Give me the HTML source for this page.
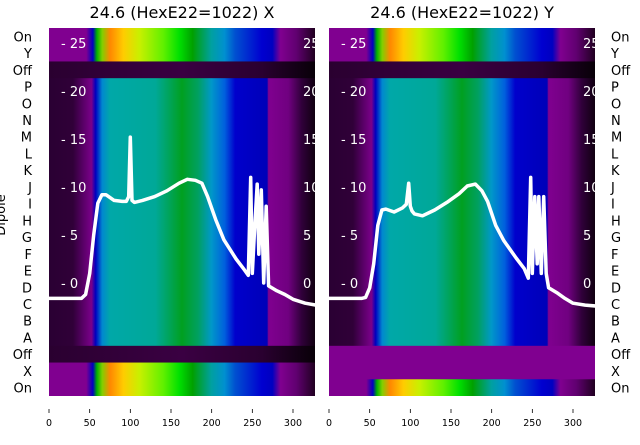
<!DOCTYPE html>
<html><head><meta charset="utf-8"><style>
body{margin:0;background:#fff;width:640px;height:440px;overflow:hidden;font-family:"Liberation Sans","DejaVu Sans",sans-serif}
svg text{font-family:"DejaVu Sans","Liberation Sans",sans-serif}
</style></head><body>
<svg id="chart" width="640" height="440" viewBox="0 0 640 440" xmlns="http://www.w3.org/2000/svg">
<defs>
<linearGradient id="gLetter" x1="0" x2="1" y1="0" y2="0">
<stop offset="0" stop-color="#2a0033"/><stop offset="0.09" stop-color="#300038"/><stop offset="0.13" stop-color="#5a0068"/><stop offset="0.16" stop-color="#7a008a"/><stop offset="0.175" stop-color="#0000c0"/><stop offset="0.2" stop-color="#0088d0"/><stop offset="0.23" stop-color="#00a8a8"/><stop offset="0.4" stop-color="#00a898"/><stop offset="0.5" stop-color="#00a020"/><stop offset="0.56" stop-color="#00a060"/><stop offset="0.61" stop-color="#0098c8"/><stop offset="0.66" stop-color="#0060dd"/><stop offset="0.7" stop-color="#0000cc"/><stop offset="0.82" stop-color="#0000b8"/><stop offset="0.825" stop-color="#800090"/><stop offset="0.9" stop-color="#700080"/><stop offset="0.95" stop-color="#30003a"/><stop offset="1" stop-color="#100010"/>
</linearGradient>
<linearGradient id="gOn" x1="0" x2="1" y1="0" y2="0">
<stop offset="0" stop-color="#800090"/><stop offset="0.14" stop-color="#800090"/><stop offset="0.165" stop-color="#0000c0"/><stop offset="0.18" stop-color="#00b000"/><stop offset="0.2" stop-color="#80d000"/><stop offset="0.23" stop-color="#ff8800"/><stop offset="0.28" stop-color="#ffcc00"/><stop offset="0.34" stop-color="#c8f000"/><stop offset="0.43" stop-color="#60f000"/><stop offset="0.49" stop-color="#00e000"/><stop offset="0.54" stop-color="#00a000"/><stop offset="0.61" stop-color="#00a0a0"/><stop offset="0.66" stop-color="#0090d0"/><stop offset="0.7" stop-color="#0050d0"/><stop offset="0.8" stop-color="#0000d0"/><stop offset="0.84" stop-color="#0000c0"/><stop offset="0.87" stop-color="#800090"/><stop offset="0.93" stop-color="#600070"/><stop offset="1" stop-color="#200020"/>
</linearGradient>
<linearGradient id="gOff" x1="0" x2="1" y1="0" y2="0">
<stop offset="0" stop-color="#2a0030"/><stop offset="0.5" stop-color="#3a0042"/><stop offset="0.8" stop-color="#2a0030"/><stop offset="1" stop-color="#080008"/>
</linearGradient>
<clipPath id="clipL"><rect x="49" y="28" width="266" height="368"/></clipPath>
<clipPath id="clipR"><rect x="328" y="28" width="267" height="368"/></clipPath>
</defs>
<g id="layer"></g>
</svg>
<script>
const rowLabels=["On","Y","Off","P","O","N","M","L","K","J","I","H","G","F","E","D","C","B","A","Off","X","On"];
const rowTypesX=["on","on","off","l","l","l","l","l","l","l","l","l","l","l","l","l","l","l","l","off","on","on"];
const rowTypesY=["on","on","off","l","l","l","l","l","l","l","l","l","l","l","l","l","l","l","l","purple","purple","on"];
const xTicks=[0,50,100,150,200,250,300];
const yTicks=[0,5,10,15,20,25];
const lineXs=[0,20,40,45,50,55,60,65,70,80,90,95,98,100,102,105,115,130,145,160,170,180,188,195,205,215,230,240,245,248,250,253,256,258,261,264,267,270,280,290,300,315,328];
const lineYX=[-1.6,-1.6,-1.6,-1.2,1,5,8.3,9.2,9.2,8.6,8.5,8.5,9,15.2,8.6,8.4,8.6,9,9.6,10.4,10.8,10.7,10.4,9,6.6,4.5,2.5,1.4,0.8,11,1,6,10.3,3,9.7,0,8,-0.3,-0.8,-1.2,-1.7,-2.1,-2.3];
const lineYY=[-1.6,-1.6,-1.6,-1.5,-0.5,2,6,7.6,7.7,7.4,7.8,8.2,10.4,8,7.5,7.2,7,7.6,8.4,9.3,10.1,10.3,9.6,8.5,6,4.4,2.6,1.5,0.5,11,1,9,2,9,1,9,1,-0.5,-1,-1.6,-2.1,-2.3,-2.4];
const NS="http://www.w3.org/2000/svg";
const layer=document.getElementById('layer');
const top0=28,rowH=368/22;
function mk(tag,attrs,parent){const e=document.createElementNS(NS,tag);for(const k in attrs)e.setAttribute(k,attrs[k]);(parent||layer).appendChild(e);return e;}
function yPix(v){return 283-v*9.6;}
function panel(px0,pw,types,ys,title,clip,labelSide,name){
  const xs=v=>px0+v*(244/300);
  const g=mk('g',{'clip-path':'url(#'+clip+')'});
  
  
  types.forEach((t,i)=>{
    const fill=t==='on'?'url(#gOn)':t==='off'?'url(#gOff)':t==='purple'?'#800090':'url(#gLetter)';
    const r=mk('rect',{x:px0,y:top0+i*rowH,width:pw,height:rowH+0.5,fill:fill},g);
    
    
  });
  const pts=lineXs.map((x,i)=>xs(x).toFixed(1)+','+yPix(ys[i]).toFixed(1)).join(' ');
  const pl=mk('polyline',{points:pts,fill:'none',stroke:'#fff','stroke-width':3.5,'stroke-linejoin':'round'},g);
  
  
  yTicks.forEach(v=>{
    const t=mk('text',{x:px0+12,y:yPix(v)+5,fill:'#fff','font-size':13},g);
    t.textContent='- '+v;
    
    
    const t2=mk('text',{x:px0+pw-12,y:yPix(v)+5,fill:'#fff','font-size':13},g);
    t2.textContent=String(v);
    
    
  });
  const tt=mk('text',{x:px0+pw/2,y:18,'text-anchor':'middle','font-size':16,fill:'#000'});
  tt.textContent=title;
  
  
  xTicks.forEach(v=>{
    const l=mk('line',{x1:xs(v),x2:xs(v),y1:409,y2:413,stroke:'#000','stroke-width':0.8});
    
    
    const t=mk('text',{x:xs(v),y:426,'text-anchor':'middle','font-size':9.5,fill:'#000'});
    t.textContent=String(v);
    
    
  });
  rowLabels.forEach((lab,i)=>{
    const y=top0+(i+0.5)*rowH+5;
    const t=labelSide==='left'?mk('text',{x:32,y:y,'text-anchor':'end','font-size':13,fill:'#000'}):mk('text',{x:611,y:y,'text-anchor':'start','font-size':13,fill:'#000'});
    t.textContent=lab;
    
    
  });
}
panel(49,266,rowTypesX,lineYX,'24.6 (HexE22=1022) X','clipL','left','x-panel');
panel(329,266,rowTypesY,lineYY,'24.6 (HexE22=1022) Y','clipR','right','y-panel');
const yl=mk('text',{x:0,y:0,transform:'translate(5,215) rotate(-90)','text-anchor':'middle','font-size':13,fill:'#000'});
yl.textContent='Dipole';


</script>
</body></html>
